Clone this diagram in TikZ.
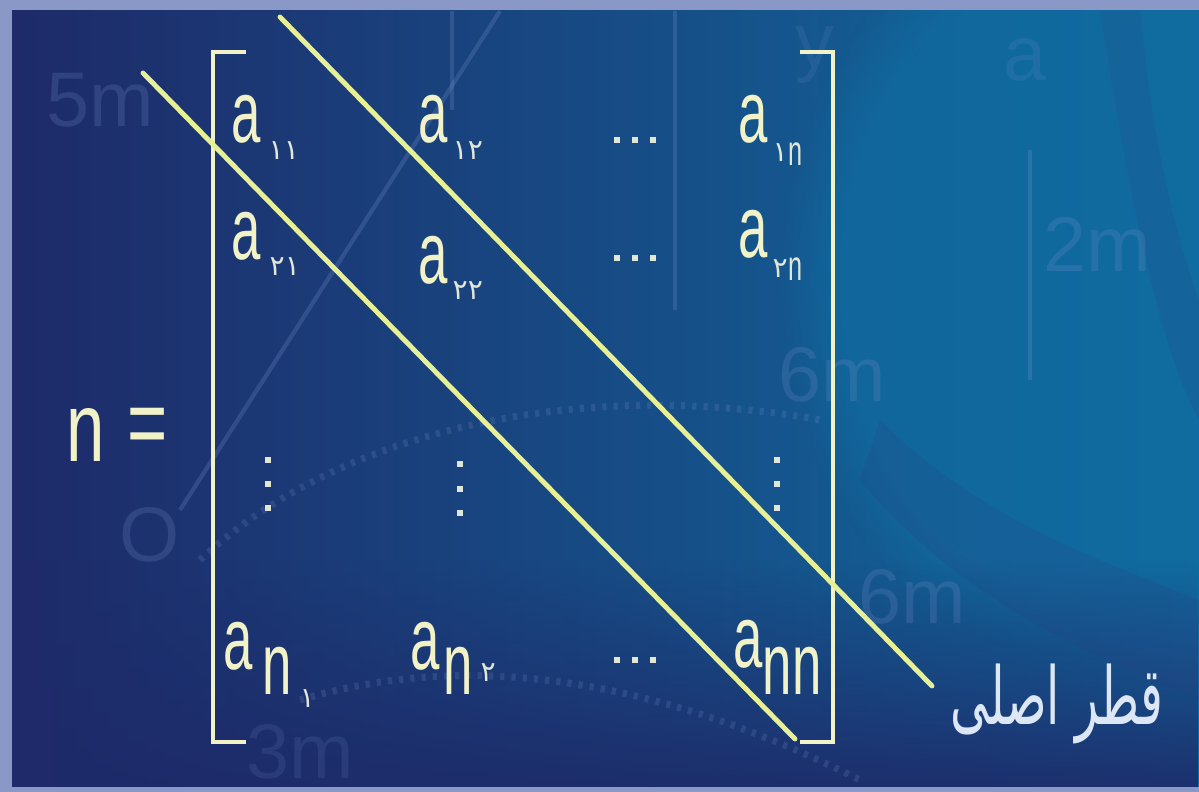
\documentclass[tikz,border=0pt]{standalone}
\usepackage{graphicx}
\usepackage{fontspec}
\setmainfont{Liberation Sans}
\newfontfamily\condfont[FakeStretch=0.6]{Liberation Sans}
\newfontfamily\condfontb[FakeStretch=0.7]{Liberation Sans}
\newfontfamily\arabicfont[Script=Arabic]{DejaVu Sans}
\newfontfamily\digitfont{DejaVu Sans}
\usetikzlibrary{fadings}
\TeXXeTstate=1
\definecolor{bgnavy}{RGB}{30,42,105}
\definecolor{bgmid}{RGB}{28,58,125}
\definecolor{bgteal}{RGB}{16,108,160}
\definecolor{bgpurple}{RGB}{45,60,130}
\definecolor{framec}{RGB}{138,152,200}
\definecolor{entc}{RGB}{242,242,200}
\definecolor{subc}{RGB}{225,230,215}
\definecolor{linec}{RGB}{232,240,150}
\definecolor{fadec}{RGB}{120,145,205}
\definecolor{lblc}{RGB}{220,230,245}
\tikzfading[name=fadetop, top color=transparent!100, bottom color=transparent!0]
\tikzset{
  ent/.style={font=\condfont\fontsize{25}{25}\selectfont, text=entc, inner sep=0pt, anchor=base west},
  sub/.style={font=\digitfont\fontsize{8}{8}\selectfont, text=subc, inner sep=0pt, anchor=base west},
  subn/.style={font=\condfont\fontsize{12}{12}\selectfont, text=subc, inner sep=0pt, anchor=base west},
  dotc/.style={fill=subc, rectangle, inner sep=0pt, outer sep=0pt, minimum width=1.6pt, minimum height=1.8pt},
  brk/.style={draw=entc, line width=1.3pt},
  diag/.style={draw=linec, line width=1.4pt, line cap=round},
  faint/.style={text=fadec, opacity=0.22, font=\fontsize{22}{22}\selectfont, inner sep=0pt},
  faintline/.style={draw=fadec, opacity=0.25, line width=1.2pt}
}
\begin{document}
\begin{tikzpicture}[x=0.01cm,y=-0.01cm]
\useasboundingbox (0,0) rectangle (1199,792);
% background and frame
\fill[framec] (0,0) rectangle (1199,792);
\shade[left color=bgnavy, middle color=bgmid, right color=bgteal] (12,11) rectangle (1199,787);
\begin{scope}
\clip (12,11) rectangle (1199,787);
\fill[bgteal, path fading=circle with fuzzy edge 20 percent, opacity=0.7] (1080,280) ellipse (300 and 380);
\fill[bgnavy, path fading=fadetop, opacity=0.9] (12,560) rectangle (1199,787);
\fill[bgpurple, opacity=0.18] (880,420) .. controls (980,520) and (1100,560) .. (1199,600) -- (1199,700) .. controls (1080,650) and (960,600) .. (860,480) -- cycle;
\fill[bgpurple, opacity=0.15] (1100,11) .. controls (1130,200) and (1160,350) .. (1199,420) -- (1199,300) .. controls (1170,220) and (1150,120) .. (1140,11) -- cycle;
% faint background drawings
\draw[faintline] (180,510) -- (500,11);
\draw[faintline] (675,11) -- (675,310);
\draw[faintline] (1030,150) -- (1030,380);
\draw[faintline] (452,11) -- (452,110);
\draw[faintline, dotted, line width=2pt, opacity=0.2] (200,560) .. controls (350,420) and (600,380) .. (820,420);
\draw[faintline, dotted, line width=2pt, opacity=0.2] (300,700) .. controls (500,640) and (700,700) .. (860,780);
\node[faint] (f5m) at (100,100) {5m};
\node[faint] (f2m) at (1097,245) {2m};
\node[faint] (f6ma) at (832,375) {6m};
\node[faint] (f6mb) at (912,597) {6m};
\node[faint] (fo) at (150,535) {O};
\node[faint, opacity=0.15] (f3m) at (300,752) {3m};
\node[faint, opacity=0.15] (fy) at (815,55) {y};
\node[faint, opacity=0.15] (fa) at (1025,60) {a};
\end{scope}
% brackets
\coordinate (lbt) at (246,52); \coordinate (lbtc) at (213,52);
\coordinate (lbbc) at (213,742); \coordinate (lbb) at (246,742);
\coordinate (rbt) at (800,52); \coordinate (rbtc) at (833,52);
\coordinate (rbbc) at (833,742); \coordinate (rbb) at (800,742);
\draw[brk] (lbt) -- (lbtc) -- (lbbc) -- (lbb);
\draw[brk] (rbt) -- (rbtc) -- (rbbc) -- (rbb);
% left-hand side
\node[font=\condfontb\fontsize{28}{28}\selectfont, text=entc, inner sep=0pt, anchor=base west] (lhs) at (66,462) {n};
\node[font=\condfontb\fontsize{28}{28}\selectfont, text=entc, inner sep=0pt, anchor=center] (eq) at (148,432) {=};
% row 1
\node[ent] (a11) at (231,143) {a};
\node[sub] (s11) at (268,160) {۱۱};
\node[ent] (a12) at (418,143) {a};
\node[sub] (s12) at (452,160) {۱۲};
\node[ent] (a1n) at (738,143) {a};
\node[sub] (s1n) at (772,162) {۱};
\node[subn] (n1n) at (788,166) {n};
% row 2
\node[ent] (a21) at (231,260) {a};
\node[sub] (s21) at (269,276) {۲۱};
\node[ent] (a22) at (418,284) {a};
\node[sub] (s22) at (452,300) {۲۲};
\node[ent] (a2n) at (738,258) {a};
\node[sub] (s2n) at (772,278) {۲};
\node[subn] (n2n) at (788,281) {n};
% row n
\node[ent] (an1) at (223,670) {a};
\node[ent] (nn1) at (262,695) {n};
\node[sub] (sn1) at (299,708) {۱};
\node[ent] (an2) at (410,670) {a};
\node[ent] (nn2) at (443,695) {n};
\node[sub] (sn2) at (480,682) {۲};
\node[ent] (ann) at (733,668) {a};
\node[ent] (nnn) at (762,695) {nn};
% horizontal dots
\foreach \x in {617,635,653}{
  \node[dotc] at (\x,140) {};
  \node[dotc] at (\x,258) {};
  \node[dotc] at (\x,660) {};
}
% vertical dots
\foreach \y in {460,484,508}{
  \node[dotc] at (268,\y) {};
  \node[dotc] at (777,\y) {};
}
\foreach \y in {464,489,513}{
  \node[dotc] at (460,\y) {};
}
% diagonals
\coordinate (l1s) at (143,73); \coordinate (l1e) at (795,739);
\coordinate (l2s) at (280,17); \coordinate (l2e) at (932,686);
\draw[diag] (l1s) -- (l1e);
\draw[diag] (l2s) -- (l2e);
% label
\node[text=lblc, anchor=north west, inner sep=0pt] (lbl) at (950,663) {\resizebox*{2.13cm}{0.80cm}{\arabicfont\beginR قطر اصلی\endR}};
\end{tikzpicture}
\end{document}
